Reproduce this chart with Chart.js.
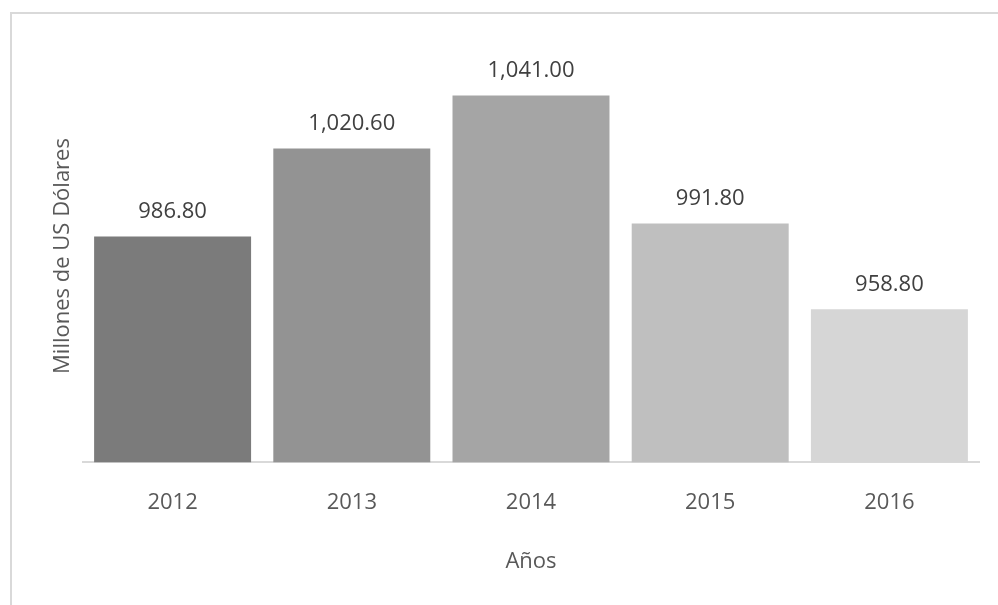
<!DOCTYPE html>
<html>
<head>
<meta charset="utf-8">
<script src="https://cdn.jsdelivr.net/npm/chart.js@4.4.1/dist/chart.umd.min.js"></script>
<style>
  body { margin: 0; background: #fff; }
  #wrap { position: relative; width: 998px; height: 605px; overflow: hidden; }
  #frame { position: absolute; left: 10px; top: 12px; width: 1000px; height: 600px;
           border-left: 2px solid #d9d9d9; border-top: 2px solid #d9d9d9; }
  #my-chart { position: absolute; left: 0; top: 0; }
</style>
</head>
<body>
<div id="wrap">
  <div id="frame"></div>
  <canvas id="my-chart" width="998" height="605"></canvas>
</div>
<script>
// data
var years = ["2012", "2013", "2014", "2015", "2016"];
var amounts = [986.80, 1020.60, 1041.00, 991.80, 958.80];
var barColors = ["#7b7b7b", "#939393", "#a5a5a5", "#bfbfbf", "#d6d6d6"];
var yTitle = "Millones de US Dólares";
var xTitle = "Años";

var font = "'Open Sans', 'Noto Sans', sans-serif";

// value labels above each bar + the vertical axis title
var barLabels = {
  id: 'barLabels',
  afterDatasetsDraw: function(chart) {
    var ctx = chart.ctx;
    var meta = chart.getDatasetMeta(0);
    ctx.save();
    ctx.font = "22px " + font;
    ctx.fillStyle = "#404040";
    ctx.textAlign = "center";
    ctx.textBaseline = "middle";
    meta.data.forEach(function(bar, i) {
      var txt = amounts[i].toLocaleString('en-US', {minimumFractionDigits: 2, maximumFractionDigits: 2});
      ctx.fillText(txt, bar.x, bar.y - 25);
    });
    ctx.restore();

    // y title, rotated, sits a bit above the middle of the plot like in excel
    ctx.save();
    ctx.translate(chart.chartArea.left - 20, chart.chartArea.top + 210);
    ctx.rotate(-Math.PI / 2);
    ctx.font = "22px " + font;
    ctx.fillStyle = "#595959";
    ctx.textAlign = "center";
    ctx.textBaseline = "middle";
    ctx.fillText(yTitle, 0, 0);
    ctx.restore();
  }
};

var chart = new Chart(document.getElementById('my-chart'), {
  type: 'bar',
  data: {
    labels: years,
    datasets: [{
      data: amounts,
      backgroundColor: barColors,
      borderWidth: 0,
      categoryPercentage: 1,
      barPercentage: 0.876
    }]
  },
  options: {
    responsive: false,
    animation: false,
    layout: { padding: { left: 83, right: 19, top: 46, bottom: 30 } },
    plugins: { legend: { display: false }, tooltip: { enabled: false } },
    scales: {
      x: {
        grid: { display: false },
        border: { display: true, color: "#d9d9d9", width: 2 },
        ticks: { color: "#595959", font: { size: 22, family: font }, padding: 19 },
        title: { display: true, text: xTitle, color: "#595959",
                 font: { size: 22, family: font }, padding: { top: 14, bottom: 0 } }
      },
      y: {
        display: false,
        min: 900,
        max: 1060
      }
    }
  },
  plugins: [barLabels]
});
</script>
</body>
</html>
